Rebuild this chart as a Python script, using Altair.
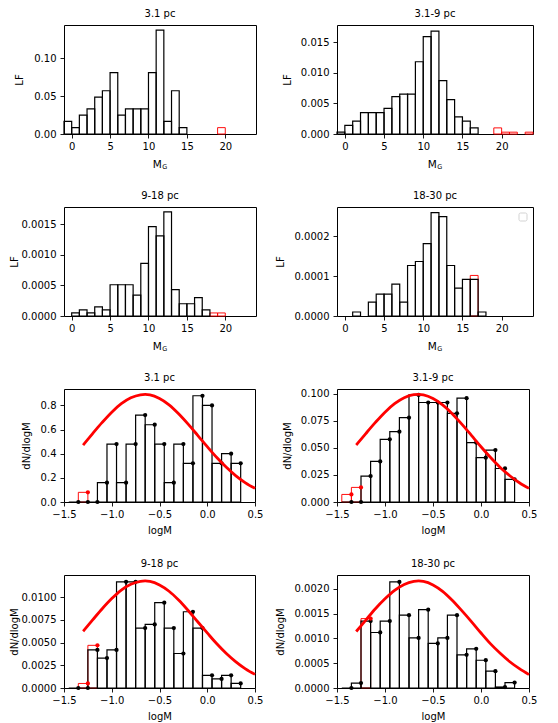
import altair as alt
import pandas as pd

FONT = "DejaVu Sans"
INK = "#000000"
RED = "#ff0000"

# ---------------- Luminosity functions (upper panels) ----------------
lf_titles = ["3.1 pc", "3.1-9 pc", "9-18 pc", "18-30 pc"]
LF_BIN = 1.0
lf_xticks = [0, 5, 10, 15, 20]

lf1_bins = [-1, 0, 1, 2, 3, 4, 5, 6, 7, 8, 9, 10, 11, 12, 13, 14]
lf1_vals = [0.0167, 0.0084, 0.025, 0.033, 0.0485, 0.057, 0.081, 0.025,
            0.033, 0.033, 0.033, 0.081, 0.137, 0.0167, 0.057, 0.0084]
lf1_red_bins = [19]
lf1_red_vals = [0.0084]

lf2_bins = [-1, 0, 1, 2, 3, 4, 5, 6, 7, 8, 9, 10, 11, 12, 13, 14, 15, 16]
lf2_vals = [0.0003, 0.0014, 0.0021, 0.0035, 0.0035, 0.0035, 0.0042, 0.0061, 0.0065,
            0.0065, 0.0118, 0.0159, 0.0168, 0.0087, 0.0056, 0.0028, 0.0021, 0.0010]
lf2_red_bins = [19, 20, 21, 23]
lf2_red_vals = [0.0010, 0.0003, 0.0003, 0.0003]

lf3_bins = [0, 1, 2, 3, 4, 5, 6, 7, 8, 9, 10, 11, 12, 13, 14, 15, 16, 17]
lf3_vals = [0.00005, 0.0001, 0.00005, 0.00015, 0.0001, 0.00051, 0.00051, 0.00051, 0.00034,
            0.00086, 0.00146, 0.00131, 0.0017, 0.00043, 0.0002, 0.0002, 0.0003, 0.0001]
lf3_red_bins = [18, 19]
lf3_red_vals = [0.00005, 0.00005]

lf4_bins = [1, 3, 4, 5, 6, 7, 8, 9, 10, 11, 12, 13, 14, 15, 16, 17]
lf4_vals = [0.00001, 0.000035, 0.000055, 0.000055, 0.00008, 0.000035, 0.000127, 0.000137,
            0.000182, 0.00026, 0.00025, 0.000127, 0.00007, 0.000092, 0.000092, 0.00001]
lf4_red_bins = [16]
lf4_red_vals = [0.000102]

# ---------------- Mass functions (lower panels) ----------------
MF_STEP = 0.1
mf_x = [-1.35, -1.25, -1.15, -1.05, -0.95, -0.85, -0.75, -0.65, -0.55,
        -0.45, -0.35, -0.25, -0.15, -0.05, 0.05, 0.15, 0.25, 0.35]
mf_xticks = [-1.5, -1.0, -0.5, 0.0, 0.5]

mf1_vals = [0, 0, 0, 0.16, 0.48, 0.16, 0.48, 0.72, 0.64,
            0.48, 0.16, 0.48, 0.32, 0.88, 0.80, 0.32, 0.40, 0.32]
mf1_red_x = [-1.25]
mf1_red_vals = [0.08]

mf2_vals = [0, 0, 0.024, 0.0375, 0.058, 0.065, 0.078, 0.099, 0.092,
            0.092, 0.092, 0.082, 0.096, 0.055, 0.041, 0.048, 0.031, 0.021]
mf2_red_x = [-1.35, -1.25]
mf2_red_vals = [0.007, 0.0135]

mf3_vals = [0, 0, 0.0042, 0.0033, 0.0042, 0.0117, 0.0117, 0.0066, 0.0070,
            0.0094, 0.0066, 0.0038, 0.0084, 0.0066, 0.0014, 0.0010, 0.0014, 0.0005]
mf3_red_x = [-1.25, -1.15]
mf3_red_vals = [0.0005, 0.0047]

mf4_vals = [0, 0.0001, 0.00135, 0.00112, 0.00135, 0.00214, 0.00147, 0.00101, 0.00158,
            0.00090, 0.00101, 0.00147, 0.00067, 0.00079, 0.00056, 0.00034, 0.00002, 0.00011]
mf4_red_x = [-1.15]
mf4_red_vals = [0.0014]

# red log-normal curves
curve_x = [-1.3, -1.2, -1.1, -1.0, -0.9, -0.8, -0.7, -0.65, -0.6, -0.5,
           -0.4, -0.3, -0.2, -0.1, 0.0, 0.1, 0.2, 0.3, 0.4, 0.5]
curve1 = [0.472, 0.567, 0.659, 0.744, 0.814, 0.863, 0.888, 0.891, 0.887, 0.857,
          0.805, 0.731, 0.645, 0.552, 0.458, 0.368, 0.287, 0.217, 0.159, 0.113]
curve2 = [0.0527, 0.0633, 0.0736, 0.0831, 0.0909, 0.0964, 0.0992, 0.0995, 0.0990, 0.0957,
          0.0898, 0.0817, 0.0720, 0.0616, 0.0511, 0.0411, 0.0320, 0.0243, 0.0178, 0.0126]
curve3 = [0.00625, 0.00750, 0.00873, 0.00985, 0.01079, 0.01143, 0.01176, 0.01180, 0.01174, 0.01135,
          0.01066, 0.00969, 0.00854, 0.00730, 0.00607, 0.00487, 0.00380, 0.00288, 0.00211, 0.00150]
curve4 = [0.00114, 0.00137, 0.00160, 0.00180, 0.00197, 0.00209, 0.00215, 0.00216, 0.00215, 0.00208,
          0.00195, 0.00177, 0.00156, 0.00134, 0.00111, 0.00089, 0.00070, 0.00053, 0.00039, 0.00027]

YEXT = 40
one_row = alt.Data(values=[{"k": 1}])


def outline_bars(df, xs, ys, xax, yax, color, sw):
    return alt.Chart(df).mark_rect(fillOpacity=0, stroke=color, strokeWidth=sw).encode(
        x=alt.X("x0:Q", scale=xs, axis=xax),
        x2="x1:Q",
        y=alt.Y("y:Q", scale=ys, axis=yax),
        y2=alt.datum(0),
    )


def lf_panel(title, bins, vals, rbins, rvals, ymax, yticks, yfmt, w, h, tpad, legend_box=False):
    black = pd.DataFrame({"x0": bins, "y": vals})
    black["x1"] = black["x0"] + LF_BIN
    red = pd.DataFrame({"x0": rbins, "y": rvals})
    red["x1"] = red["x0"] + LF_BIN
    xs = alt.Scale(domain=[-1, 24], nice=False, zero=False)
    ys = alt.Scale(domain=[0, ymax], nice=False, zero=False)
    xax = alt.Axis(values=lf_xticks, format="d", title=None)
    yax = alt.Axis(values=yticks, format=yfmt, title="LF", titlePadding=tpad,
                   minExtent=YEXT, maxExtent=YEXT)
    layers = [outline_bars(red, xs, ys, xax, yax, RED, 0.95),
              outline_bars(black, xs, ys, xax, yax, INK, 1.2)]
    layers.append(alt.Chart(one_row).mark_text(text="M", font=FONT, fontSize=10.5, align="left",
                                               baseline="alphabetic", color=INK)
                  .encode(x=alt.value(w / 2 - 7.2), y=alt.value(h + 33.5)))
    layers.append(alt.Chart(one_row).mark_text(text="G", font=FONT, fontSize=6.5, align="left",
                                               baseline="alphabetic", color=INK)
                  .encode(x=alt.value(w / 2 + 2.2), y=alt.value(h + 35)))
    if legend_box:
        layers.append(alt.Chart(one_row).mark_rect(fill="white", stroke="#c8c8c8", strokeWidth=0.8,
                                                   cornerRadius=1.5)
                      .encode(x=alt.value(w - 14), x2=alt.value(w - 6),
                              y=alt.value(6), y2=alt.value(14)))
    return alt.layer(*layers).properties(width=w, height=h, title=title)


def mf_panel(title, vals, rx, rvals, curve, ymax, yticks, yfmt, w, h, tpad):
    black = pd.DataFrame({"x": mf_x, "y": vals})
    black["x0"] = black["x"] - MF_STEP
    black["x1"] = black["x"]
    red = pd.DataFrame({"x": rx, "y": rvals})
    red["x0"] = red["x"] - MF_STEP
    red["x1"] = red["x"]
    cdf = pd.DataFrame({"x": curve_x, "y": curve})
    xs = alt.Scale(domain=[-1.5, 0.5], nice=False, zero=False)
    ys = alt.Scale(domain=[0, ymax], nice=False, zero=False)
    xax = alt.Axis(values=mf_xticks, format=".1f", title="logM", titlePadding=6)
    yax = alt.Axis(values=yticks, format=yfmt, title="dN/dlogM", titlePadding=tpad,
                   minExtent=YEXT, maxExtent=YEXT)

    def dots(df, color):
        return alt.Chart(df).mark_circle(size=18, color=color, opacity=1).encode(
            x=alt.X("x:Q", scale=xs, axis=xax), y=alt.Y("y:Q", scale=ys, axis=yax))

    line = alt.Chart(cdf).mark_line(color=RED, strokeWidth=2.8, interpolate="monotone").encode(
        x=alt.X("x:Q", scale=xs, axis=xax), y=alt.Y("y:Q", scale=ys, axis=yax))
    return alt.layer(
        outline_bars(red, xs, ys, xax, yax, RED, 0.95),
        outline_bars(black, xs, ys, xax, yax, INK, 1.2),
        dots(black, INK),
        dots(red, RED),
        line,
    ).properties(width=w, height=h, title=title)


p1 = lf_panel(lf_titles[0], lf1_bins, lf1_vals, lf1_red_bins, lf1_red_vals, 0.1437,
              [0, 0.05, 0.10], ".2f", 192, 109, 0)
p2 = lf_panel(lf_titles[1], lf2_bins, lf2_vals, lf2_red_bins, lf2_red_vals, 0.0178,
              [0, 0.005, 0.010, 0.015], ".3f", 196, 109, 5)
p3 = lf_panel(lf_titles[2], lf3_bins, lf3_vals, lf3_red_bins, lf3_red_vals, 0.00178,
              [0, 0.0005, 0.0010, 0.0015], ".4f", 192, 109, 5)
p4 = lf_panel(lf_titles[3], lf4_bins, lf4_vals, lf4_red_bins, lf4_red_vals, 0.000274,
              [0, 0.0001, 0.0002], ".4f", 196, 109, 12, legend_box=True)
p5 = mf_panel(lf_titles[0], mf1_vals, mf1_red_x, mf1_red_vals, curve1, 0.936,
              [0, 0.2, 0.4, 0.6, 0.8], ".1f", 191, 113, -7)
p6 = mf_panel(lf_titles[1], mf2_vals, mf2_red_x, mf2_red_vals, curve2, 0.1045,
              [0, 0.025, 0.05, 0.075, 0.1], ".3f", 192, 113, 5)
p7 = mf_panel(lf_titles[2], mf3_vals, mf3_red_x, mf3_red_vals, curve3, 0.01245,
              [0, 0.0025, 0.005, 0.0075, 0.01], ".4f", 191, 113, 5)
p8 = mf_panel(lf_titles[3], mf4_vals, mf4_red_x, mf4_red_vals, curve4, 0.00228,
              [0, 0.0005, 0.001, 0.0015, 0.002], ".4f", 192, 113, 12)

chart = alt.concat(p1, p2, p3, p4, p5, p6, p7, p8, columns=2,
                   spacing=alt.RowColnumber(row=73, column=81), bounds="flush").properties(
    padding=0
).configure_view(
    stroke=INK, strokeWidth=1
).configure_axis(
    labelFont=FONT, titleFont=FONT, labelFontSize=10, titleFontSize=10,
    titleFontWeight="normal", labelColor=INK, titleColor=INK,
    tickColor=INK, tickSize=4, tickWidth=0.9, domain=False, grid=False,
    labelFlush=False, labelOverlap=False,
).configure_axisY(
    labelPadding=4
).configure_axisX(
    labelPadding=3
).configure_title(
    font=FONT, fontSize=10, fontWeight="normal", color=INK, offset=6
)

chart.save("out.html", embed_options={"renderer": "svg", "actions": False})
